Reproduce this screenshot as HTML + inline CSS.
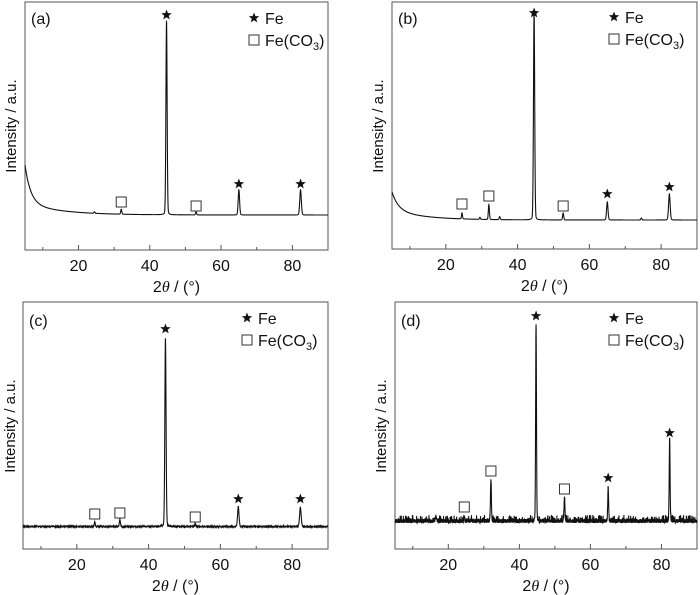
<!DOCTYPE html>
<html><head><meta charset="utf-8"><style>
html,body{margin:0;padding:0;background:#fff;}
svg{display:block;font-family:"Liberation Sans",Arial,sans-serif;}
</style></head><body>
<svg id="s" width="700" height="595" viewBox="0 0 700 595" xmlns="http://www.w3.org/2000/svg">
<g font-size="16" fill="#111">
<text x="31" y="24">(a)</text>
<text x="398" y="24">(b)</text>
<text x="29" y="326">(c)</text>
<text x="401" y="326">(d)</text>
</g>
<g font-size="15" fill="#111">
<text transform="translate(16,126) rotate(-90)" text-anchor="middle">Intensity / a.u.</text>
<text transform="translate(383,126) rotate(-90)" text-anchor="middle">Intensity / a.u.</text>
<text transform="translate(15,426) rotate(-90)" text-anchor="middle">Intensity / a.u.</text>
<text transform="translate(386,426) rotate(-90)" text-anchor="middle">Intensity / a.u.</text>
</g>
<g id="dyn"></g>
</svg>
<script>
var g=document.getElementById('dyn'),h='';
var seed=7;function rnd(){seed=(seed*16807)%2147483647;return seed/2147483647;}
function star(x,y,r){var p=[];for(var i=0;i<10;i++){var a=-Math.PI/2+i*Math.PI/5,rr=i%2?r*0.42:r;p.push((x+rr*Math.cos(a)).toFixed(1)+','+(y+rr*Math.sin(a)).toFixed(1));}return '<polygon points="'+p.join(' ')+'" fill="#111"/>';}
function sq(x,y){return '<rect x="'+(x-5)+'" y="'+(y-5)+'" width="10" height="10" fill="none" stroke="#333" stroke-width="1"/>';}
function panel(P){
 var X=function(t){return P.x0+(t-5)*(P.x1-P.x0)/85;};
 h+='<rect x="'+P.x0+'" y="'+P.y0+'" width="'+(P.x1-P.x0)+'" height="'+(P.y1-P.y0)+'" fill="none" stroke="#555" stroke-width="1"/>';
 for(var t=10;t<=90;t+=10){var x=X(t),L=(t%20==0)?5:3;h+='<line x1="'+x+'" x2="'+x+'" y1="'+P.y1+'" y2="'+(P.y1-L)+'" stroke="#555"/>';
  if(t%20==0&&t<90)h+='<text x="'+x+'" y="'+(P.y1+21)+'" font-size="16" text-anchor="middle" fill="#111">'+t+'</text>';}
 var cx=(P.x0+P.x1)/2;
 h+='<text x="'+cx+'" y="'+(P.y1+42)+'" font-size="16" text-anchor="middle" fill="#111">2<tspan font-family="Liberation Serif,serif" font-style="italic">θ</tspan> / (°)</text>';
 var d='';
 for(var t=5;t<=90;t+=0.025){var y=P.base;
  if(P.bg)y-=P.bg(t);
  for(var k=0;k<P.pk.length;k++){var p=P.pk[k],s=p[2]||0.15,dd=t-p[0];
   y-=p[1]*(0.88*Math.exp(-dd*dd/(2*s*s))+0.12*s*s/(dd*dd+s*s));}
  if(P.noise){y-=rnd()*P.noise*(rnd()<0.15?2:1);}
  d+=(d?'L':'M')+X(t).toFixed(2)+','+y.toFixed(2);}
 h+='<path d="'+d+'" fill="none" stroke="#111" stroke-width="1.1"/>';
 for(var i=0;i<P.st.length;i++)h+=star(X(P.st[i][0]),P.st[i][1],5.5);
 for(var i=0;i<P.sq.length;i++)h+=sq(X(P.sq[i][0]),P.sq[i][1]);
 h+=star(P.lx,P.ly,5.5)+'<text x="'+(P.lx+11)+'" y="'+(P.ly+6)+'" font-size="16" fill="#111">Fe</text>';
 h+=sq(P.lx,P.ly+22)+'<text x="'+(P.lx+11)+'" y="'+(P.ly+28)+'" font-size="16" fill="#111">Fe(CO<tspan font-size="11" dy="4">3</tspan><tspan dy="-4">)</tspan></text>';
}
panel({x0:25,x1:328,y0:2,y1:250,base:218,bg:function(t){return 3+38*Math.exp(-(t-5)/1.6)+12*Math.exp(-(t-5)/10);},
 pk:[[44.7,194,0.17],[65,25,0.2],[82.3,25,0.22],[32,5],[53,3],[24.5,1.5]],
 st:[[44.7,15],[65,184],[82.3,184]],sq:[[32,202],[53,206]],lx:254,ly:18});
panel({x0:392,x1:697,y0:2,y1:249,base:222,bg:function(t){return 2+18*Math.exp(-(t-5)/1.8)+10*Math.exp(-(t-5)/9);},
 pk:[[44.6,208,0.17],[65,18,0.2],[82.3,26,0.22],[32,15,0.15],[24.5,6,0.13],[52.7,7,0.15],[35,3],[29.5,2],[74.5,2]],
 st:[[44.6,13],[65,194],[82.3,187]],sq:[[24.5,204],[32,196],[52.7,206]],lx:614,ly:17});
panel({x0:23,x1:328,y0:302,y1:549,base:527,bg:function(t){return 0;},
 pk:[[44.7,188,0.17],[65,20,0.2],[82.3,19,0.22],[25,5,0.13],[32,7,0.15],[53,3]],
 st:[[44.7,329],[65,499],[82.3,499]],sq:[[25,514],[32,513],[53,517]],lx:247,ly:318,noise:0.8});
panel({x0:395,x1:697,y0:302,y1:549,base:523,noise:4,
 pk:[[44.7,196,0.12],[65,34,0.12],[82.3,82,0.12],[32,42,0.13],[52.7,23,0.13],[24.5,5,0.1],[16.5,4,0.2]],
 st:[[44.7,316],[65,478],[82.3,433]],sq:[[24.5,507],[32,471],[52.7,489]],lx:614,ly:318});
g.innerHTML=h;
</script>
</body></html>
